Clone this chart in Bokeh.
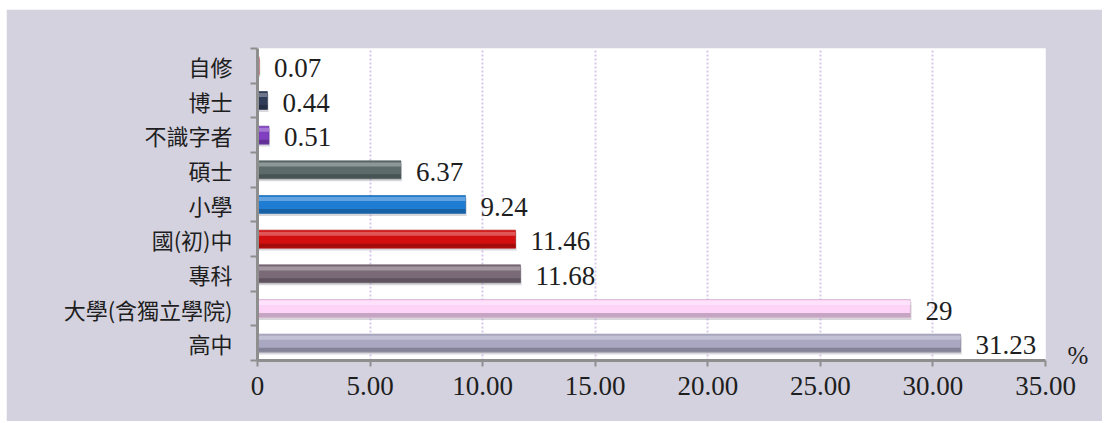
from bokeh.plotting import figure
from bokeh.models import Range1d, FixedTicker, LinearAxis, ColumnDataSource
from bokeh.core.properties import value
from bokeh.embed import file_html
from bokeh.resources import INLINE

# ---- data (top to bottom as shown) ----
categories = ["自修", "博士", "不識字者", "碩士", "小學", "國(初)中", "專科", "大學(含獨立學院)", "高中"]
values = [0.07, 0.44, 0.51, 6.37, 9.24, 11.46, 11.68, 29, 31.23]
bar_colors = ["#E01A1A", "#2E3C58", "#7F3FC0", "#5C6B6A", "#1E7CD2", "#D20E0E", "#7A6A78", "#FDD4F8", "#A9A7C1"]
x_ticks = [0, 5, 10, 15, 20, 25, 30, 35]
x_tick_labels = ["0", "5.00", "10.00", "15.00", "20.00", "25.00", "30.00", "35.00"]
unit_label = "%"

BG = "#D4D2DE"
SERIF = "Liberation Serif"
CJK = "Noto Sans CJK TC"


def mix(c, t, f):
    c = c.lstrip("#")
    r, g, b = int(c[0:2], 16), int(c[2:4], 16), int(c[4:6], 16)
    r = round(r + (t[0] - r) * f)
    g = round(g + (t[1] - g) * f)
    b = round(b + (t[2] - b) * f)
    return "#%02x%02x%02x" % (r, g, b)


n = len(categories)
ypos = [n - 1 - i for i in range(n)]
bh = 0.52

src = ColumnDataSource(dict(
    y=ypos,
    v=values,
    vs=[v + 0.05 for v in values],
    ys=[y - 0.07 for y in ypos],
    yt=[y + bh * 0.30 for y in ypos],
    yb=[y - bh * 0.36 for y in ypos],
    col=bar_colors,
    light=[mix(c, (255, 255, 255), 0.30) for c in bar_colors],
    dark=[mix(c, (0, 0, 0), 0.22) for c in bar_colors],
    lab=[f"{v:g}" for v in values],
))

p = figure(width=1096, height=412, output_backend="svg", toolbar_location=None,
           x_range=Range1d(0, 35), y_range=Range1d(-0.5, n - 0.5),
           min_border_left=251, min_border_right=57, min_border_top=39, min_border_bottom=61)
p.margin = (9, 0, 0, 6)
p.background_fill_color = "white"
p.border_fill_color = BG
p.outline_line_color = None

# grid
p.ygrid.grid_line_color = None
p.xgrid.ticker = FixedTicker(ticks=x_ticks[1:])
p.xgrid.grid_line_color = "#D8C6EA"
p.xgrid.grid_line_width = 2
p.xgrid.grid_line_dash = "2 2"

# shadow, bar, bevel highlights
p.hbar(y="ys", left=0, right="vs", height=bh, source=src, fill_color="#8E8C9C", fill_alpha=0.35, line_color=None)
p.hbar(y="y", left=0, right="v", height=bh, source=src, fill_color="col", line_color="dark", line_width=0.6)
p.hbar(y="yt", left=0, right="v", height=bh * 0.22, source=src, fill_color="light", line_color=None)
p.hbar(y="yb", left=0, right="v", height=bh * 0.22, source=src, fill_color="dark", line_color=None)

# value labels
p.text(x="v", y="y", text="lab", source=src, x_offset=15, y_offset=2,
       text_font=value(SERIF), text_font_size="27px", text_color="#1E1E1E",
       text_baseline="middle", text_align="left")

# x axis
xa = p.xaxis[0]
xa.ticker = FixedTicker(ticks=x_ticks)
xa.major_label_overrides = {t: s for t, s in zip(x_ticks, x_tick_labels)}
xa.major_label_text_font = SERIF
xa.major_label_text_font_size = "27px"
xa.major_label_text_color = "#1E1E1E"
xa.axis_line_color = "#8E8E8E"
xa.axis_line_width = 3
xa.major_tick_line_color = "#8E8E8E"
xa.major_tick_line_width = 2
xa.major_tick_out = 6
xa.major_tick_in = 0
xa.minor_tick_line_color = None
xa.major_label_standoff = 10

# y axis
ya = p.yaxis[0]
ya.ticker = FixedTicker(ticks=ypos, minor_ticks=[k - 0.5 for k in range(n + 1)])
ya.major_label_overrides = {y: c for y, c in zip(ypos, categories)}
ya.major_label_text_font = CJK
ya.major_label_text_font_size = "22px"
ya.major_label_text_color = "#1E1E1E"
ya.axis_line_color = "#8E8E8E"
ya.axis_line_width = 3
ya.major_tick_line_color = None
ya.major_tick_out = 0
ya.major_tick_in = 0
ya.minor_tick_line_color = "#8E8E8E"
ya.minor_tick_line_width = 2
ya.minor_tick_out = 7
ya.minor_tick_in = 0
ya.major_label_standoff = 18

# unit label "%" at the lower right, outside the frame
ua = LinearAxis(ticker=FixedTicker(ticks=[-0.36], minor_ticks=[]),
                major_label_overrides={-0.36: unit_label})
ua.axis_line_color = None
ua.major_tick_line_color = None
ua.minor_tick_line_color = None
ua.major_tick_out = 0
ua.major_tick_in = 0
ua.major_label_standoff = 22
ua.major_label_text_font = SERIF
ua.major_label_text_font_size = "25px"
ua.major_label_text_color = "#1E1E1E"
p.add_layout(ua, "right")

open("out.html", "w").write(file_html(p, INLINE))
